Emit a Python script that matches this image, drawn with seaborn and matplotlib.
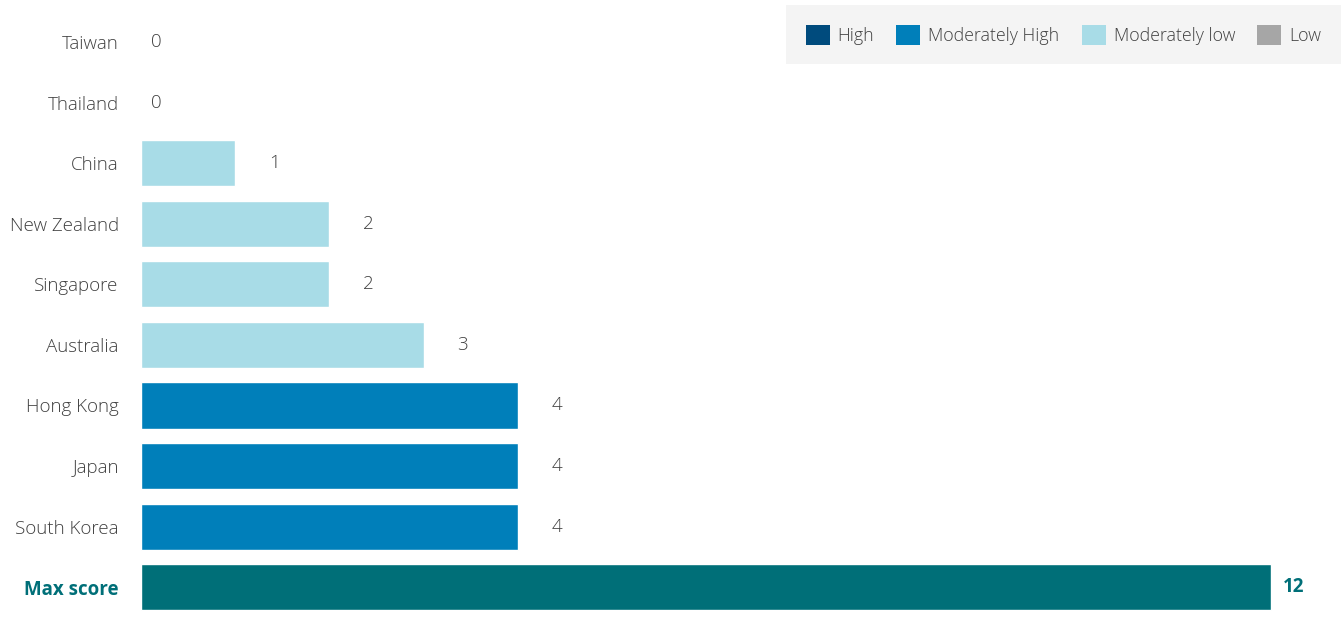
import matplotlib
matplotlib.use('Agg')
import matplotlib.pyplot as plt
from matplotlib.patches import Patch
import seaborn as sns
import pandas as pd

countries = ['Taiwan', 'Thailand', 'China', 'New Zealand', 'Singapore',
             'Australia', 'Hong Kong', 'Japan', 'South Korea', 'Max score']
scores = [0, 0, 1, 2, 2, 3, 4, 4, 4, 12]
levels = ['Low', 'Low', 'Moderately low', 'Moderately low', 'Moderately low',
          'Moderately low', 'Moderately High', 'Moderately High', 'Moderately High', 'Max']

legend_levels = ['High', 'Moderately High', 'Moderately low', 'Low']
palette = {'High': '#004b7d', 'Moderately High': '#007fba', 'Moderately low': '#a8dce7',
           'Low': '#a6a6a6', 'Max': '#006f78'}

df = pd.DataFrame({'country': countries, 'score': scores, 'level': levels})

sns.set_style('white')
plt.rcParams['font.family'] = ['Open Sans', 'DejaVu Sans']

fig = plt.figure(figsize=(13.41, 6.3), dpi=100)
ax = fig.add_axes([141 / 1341, 0.020, 1 - 141 / 1341, 0.961])

sns.barplot(data=df, y='country', x='score', hue='level', palette=palette,
            order=countries, dodge=False, width=0.76, legend=False, ax=ax,
            saturation=1)

px = 12 / 1130  # data units per pixel
ax.set_xlim(0, 1200 * px)
ax.set_ylim(len(countries) - 0.5, -0.5)
for s in ax.spines.values():
    s.set_visible(False)
ax.set_xticks([])
ax.set_xlabel('')
ax.set_ylabel('')
ax.tick_params(axis='y', length=0, pad=16)

for lbl in ax.get_yticklabels():
    lbl.set_fontsize(13.5)
    lbl.set_color('#404040')
    lbl.set_fontweight('light')
    if lbl.get_text() == 'Max score':
        lbl.set_fontweight('bold')
        lbl.set_color('#006f78')

for i, (c, v) in enumerate(zip(countries, scores)):
    if c == 'Max score':
        ax.text(v + 12 * px, i, str(v), va='center', ha='left', fontsize=13.5,
                fontweight='bold', color='#006f78')
    else:
        off = 10 if v == 0 else 34
        ax.text(v + off * px, i, str(v), va='center', ha='left', fontsize=13.5,
                fontweight='light', color='#404040')

handles = [Patch(facecolor=palette[l], edgecolor='none', label=l) for l in legend_levels]
leg = fig.legend(handles=handles, loc='upper right', bbox_to_anchor=(1.0, 0.992),
                 ncol=4, frameon=True, fontsize=12.8, handlelength=1.35, handleheight=1.35,
                 handletextpad=0.45, columnspacing=1.25, borderpad=1.1, borderaxespad=0,
                 fancybox=False)
leg.get_frame().set_facecolor('#f2f2f2')
leg.get_frame().set_edgecolor('none')
for t in leg.get_texts():
    t.set_color('#404040')
    t.set_fontweight('light')

fig.savefig('out.png', dpi=100, facecolor='white')
